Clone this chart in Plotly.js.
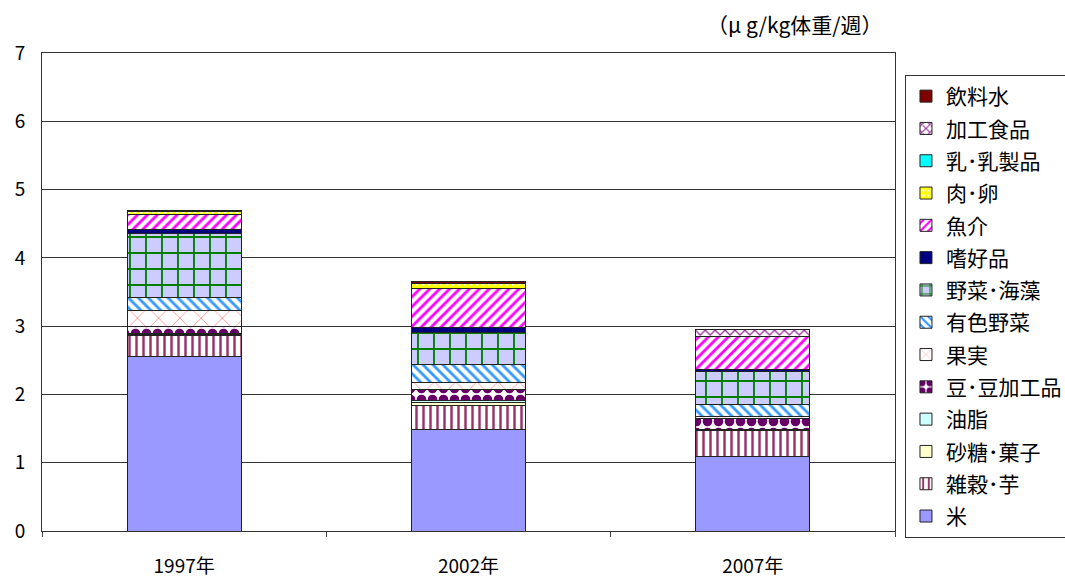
<!DOCTYPE html>
<html><head><meta charset="utf-8">
<script src="https://cdn.plot.ly/plotly-3.0.1.min.js"></script>
<style>html,body{margin:0;padding:0;background:#fff;}#chart{width:1065px;height:577px;}</style>
</head><body><div id="chart"></div>
<script>
const years = ["1997年", "2002年", "2007年"];
const seriesNames = ["米", "雑穀･芋", "砂糖･菓子", "油脂", "豆･豆加工品", "果実", "有色野菜", "野菜･海藻", "嗜好品", "魚介", "肉･卵", "乳･乳製品", "加工食品", "飲料水"];
const rice       = [2.55, 1.49, 1.09];
const grains     = [0.32, 0.35, 0.38];
const sugar      = [0.015, 0.04, 0.01];
const oil        = [0.01, 0.03, 0.01];
const beans      = [0.107, 0.157, 0.16];
const fruit      = [0.234, 0.111, 0.02];
const colorVeg   = [0.186, 0.254, 0.18];
const vegSeaweed = [0.937, 0.473, 0.49];
const luxury     = [0.059, 0.069, 0.02];
const fish       = [0.224, 0.576, 0.488];
const meatEgg    = [0.03, 0.07, 0.0];
const milk       = [0.0, 0.0, 0.0];
const processed  = [0.0, 0.0, 0.098];
const water      = [0.02, 0.03, 0.0];
const seriesValues = [rice, grains, sugar, oil, beans, fruit, colorVeg, vegSeaweed, luxury, fish, meatEgg, milk, processed, water];

const styles = [
  {color:"#9999FF"},
  {color:"#FFFFFF", pattern:{shape:"|", fgcolor:"#993366", bgcolor:"#FFFFFF", size:7, solidity:0.35}},
  {color:"#FFFFCC"},
  {color:"#CCFFFF"},
  {color:"#FFFFFF", pattern:{shape:".", fgcolor:"#660066", bgcolor:"#FFFFFF", size:11, solidity:0.6}},
  {color:"#FFFFFF", pattern:{shape:"x", fgcolor:"#FF9999", bgcolor:"#FFFFFF", size:15, solidity:0.12}},
  {color:"#FFFFFF", pattern:{shape:"\\", fgcolor:"#3399FF", bgcolor:"#FFFFFF", size:7, solidity:0.4}},
  {color:"#CCCCFF", pattern:{shape:"+", fgcolor:"#008000", bgcolor:"#CCCCFF", size:16, solidity:0.22}},
  {color:"#000080"},
  {color:"#FFFFFF", pattern:{shape:"/", fgcolor:"#FF00FF", bgcolor:"#FFFFFF", size:7, solidity:0.4}},
  {color:"#FFFF00", pattern:{shape:".", fgcolor:"#FFFFFF", bgcolor:"#FFFF00", size:6, solidity:0.2}},
  {color:"#00FFFF"},
  {color:"#FFFFFF", pattern:{shape:"x", fgcolor:"#993399", bgcolor:"#FFFFFF", size:7, solidity:0.35}},
  {color:"#800000"}
];

const traces = seriesNames.map((name, i) => {
  const st = styles[i];
  const marker = {color: st.color, line:{color:"#222", width:1}};
  if (st.pattern) marker.pattern = st.pattern;
  return {type:"bar", name:name, x:years, y:seriesValues[i], marker:marker,
          legendgroup:"g"+i, legendrank:1000 - i, hoverinfo:"name+y"};
});

const layout = {
  width:1065, height:577,
  margin:{l:42, r:170, t:53, b:46, autoexpand:false},
  paper_bgcolor:"#fff", plot_bgcolor:"#fff",
  barmode:"stack", bargap:0.6,
  font:{family:"Noto Sans CJK JP, sans-serif", color:"#000"},
  xaxis:{type:"category", tickson:"boundaries", ticks:"outside", ticklen:5, tickcolor:"#444",
         showline:true, linecolor:"#333", linewidth:1, mirror:true, showgrid:false,
         tickfont:{size:19}, ticklabelstandoff:18, fixedrange:true},
  yaxis:{range:[0,7], dtick:1, showline:true, linecolor:"#333", linewidth:1, mirror:true,
         showgrid:true, gridcolor:"#333", gridwidth:1, ticks:"", tickfont:{size:19},
         ticklabelstandoff:12, zeroline:false, fixedrange:true},
  legend:{x:1.0117, y:0.954, xanchor:"left", yanchor:"top", traceorder:"grouped",
          tracegroupgap:2, bordercolor:"#333", borderwidth:1, bgcolor:"#fff",
          font:{size:21}},
  annotations:[{xref:"paper", yref:"paper", x:0.988, y:1.0, xanchor:"right", yanchor:"bottom",
                yshift:12, showarrow:false, text:"（μ g/kg体重/週）", font:{size:21}}]
};

Plotly.newPlot("chart", traces, layout, {displayModeBar:false, staticPlot:true});
</script></body></html>
